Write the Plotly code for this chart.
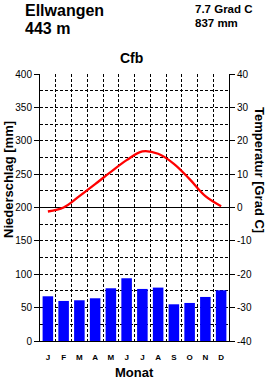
import plotly.graph_objects as go

months = ["J", "F", "M", "A", "M", "J", "J", "A", "S", "O", "N", "D"]
month_num = list(range(1, 13))
precip_mm = [67, 60, 61, 64, 79, 94, 78, 80, 55, 57, 66, 76]
temp_c = [-1.2, 0.0, 3.4, 7.0, 10.7, 14.2, 16.8, 16.1, 13.1, 8.5, 3.4, 0.4]
precip_ticks = [0, 50, 100, 150, 200, 250, 300, 350, 400]
temp_ticks = [-40, -30, -20, -10, 0, 10, 20, 30, 40]
temp_ticktext = ["-40", "-30", "-20", "-10", "0", "10", "20", "30", "40"]

W, H = 268, 382
L, R, T, B = 40, 39, 74, 41
pw, ph = W - L - R, H - T - B

def px(x):
    return (x - L) / pw

def py(y):
    return (H - B - y) / ph

FONT = "Liberation Sans, Arial, sans-serif"
DASH = "3px,2px"

fig = go.Figure()
fig.add_trace(go.Bar(x=month_num, y=precip_mm, marker=dict(color="#0000FF", line=dict(width=0)),
                     width=0.67, yaxis="y", showlegend=False))
fig.add_trace(go.Scatter(x=month_num, y=temp_c, mode="lines", yaxis="y2",
                         line=dict(color="#FF0000", width=2.3, shape="spline", smoothing=1.0),
                         showlegend=False))

fig.update_layout(
    width=W, height=H,
    margin=dict(l=L, r=R, t=T, b=B, pad=0),
    paper_bgcolor="white", plot_bgcolor="white",
    font=dict(family=FONT, color="black"),
    xaxis=dict(range=[0.5, 12.5], tickmode="array", tickvals=month_num, ticktext=months,
               showgrid=False, zeroline=False, showline=True, linecolor="black", linewidth=1,
               ticks="", ticklabelstandoff=8,
               tickfont=dict(size=8, family="Liberation Sans, Arial", weight="bold"),
               minor=dict(tick0=0.5, dtick=1, showgrid=True, gridcolor="black", gridwidth=1,
                          griddash=DASH, ticks="")),
    yaxis=dict(range=[0, 400], tickmode="array", tickvals=precip_ticks,
               showgrid=True, gridcolor="black", gridwidth=1, griddash=DASH,
               zeroline=False, showline=True, linecolor="black", linewidth=1,
               ticks="outside", ticklen=5, tickcolor="black", tickwidth=1,
               tickfont=dict(size=10),
               minor=dict(dtick=25, showgrid=True, gridcolor="black", gridwidth=1,
                          griddash=DASH, ticks="")),
    yaxis2=dict(range=[-40, 40], overlaying="y", side="right", tickmode="array",
                tickvals=temp_ticks, ticktext=temp_ticktext, showgrid=False,
                zeroline=True, zerolinecolor="black", zerolinewidth=1,
                showline=True, linecolor="black", linewidth=1,
                ticks="outside", ticklen=5, tickcolor="black", tickwidth=1,
                tickfont=dict(size=10)),
)

anns = [
    dict(text="Ellwangen", x=px(23), y=py(10), xanchor="left", size=16),
    dict(text="443 m", x=px(23), y=py(28), xanchor="left", size=16),
    dict(text="7.7 Grad C", x=px(193), y=py(9), xanchor="left", size=11.5),
    dict(text="837 mm", x=px(193), y=py(23), xanchor="left", size=11.5),
    dict(text="Cfb", x=px(131), y=py(58), xanchor="center", size=14),
    dict(text="Monat", x=px(134), y=py(372), xanchor="center", size=13),
]
for a in anns:
    fig.add_annotation(text=a["text"], x=a["x"], y=a["y"], xref="paper", yref="paper",
                       xanchor=a["xanchor"], yanchor="middle", showarrow=False,
                       font=dict(size=a["size"], family=FONT, weight="bold", color="black"))

fig.add_annotation(text="Niederschlag [mm]", x=px(8), y=py(180), xref="paper", yref="paper",
                   textangle=-90, xanchor="center", yanchor="middle", showarrow=False,
                   font=dict(size=13, family=FONT, weight="bold", color="black"))
fig.add_annotation(text="Temperatur [Grad C]", x=px(260), y=py(170), xref="paper", yref="paper",
                   textangle=90, xanchor="center", yanchor="middle", showarrow=False,
                   font=dict(size=13, family=FONT, weight="bold", color="black"))

fig.write_html("out.html")
